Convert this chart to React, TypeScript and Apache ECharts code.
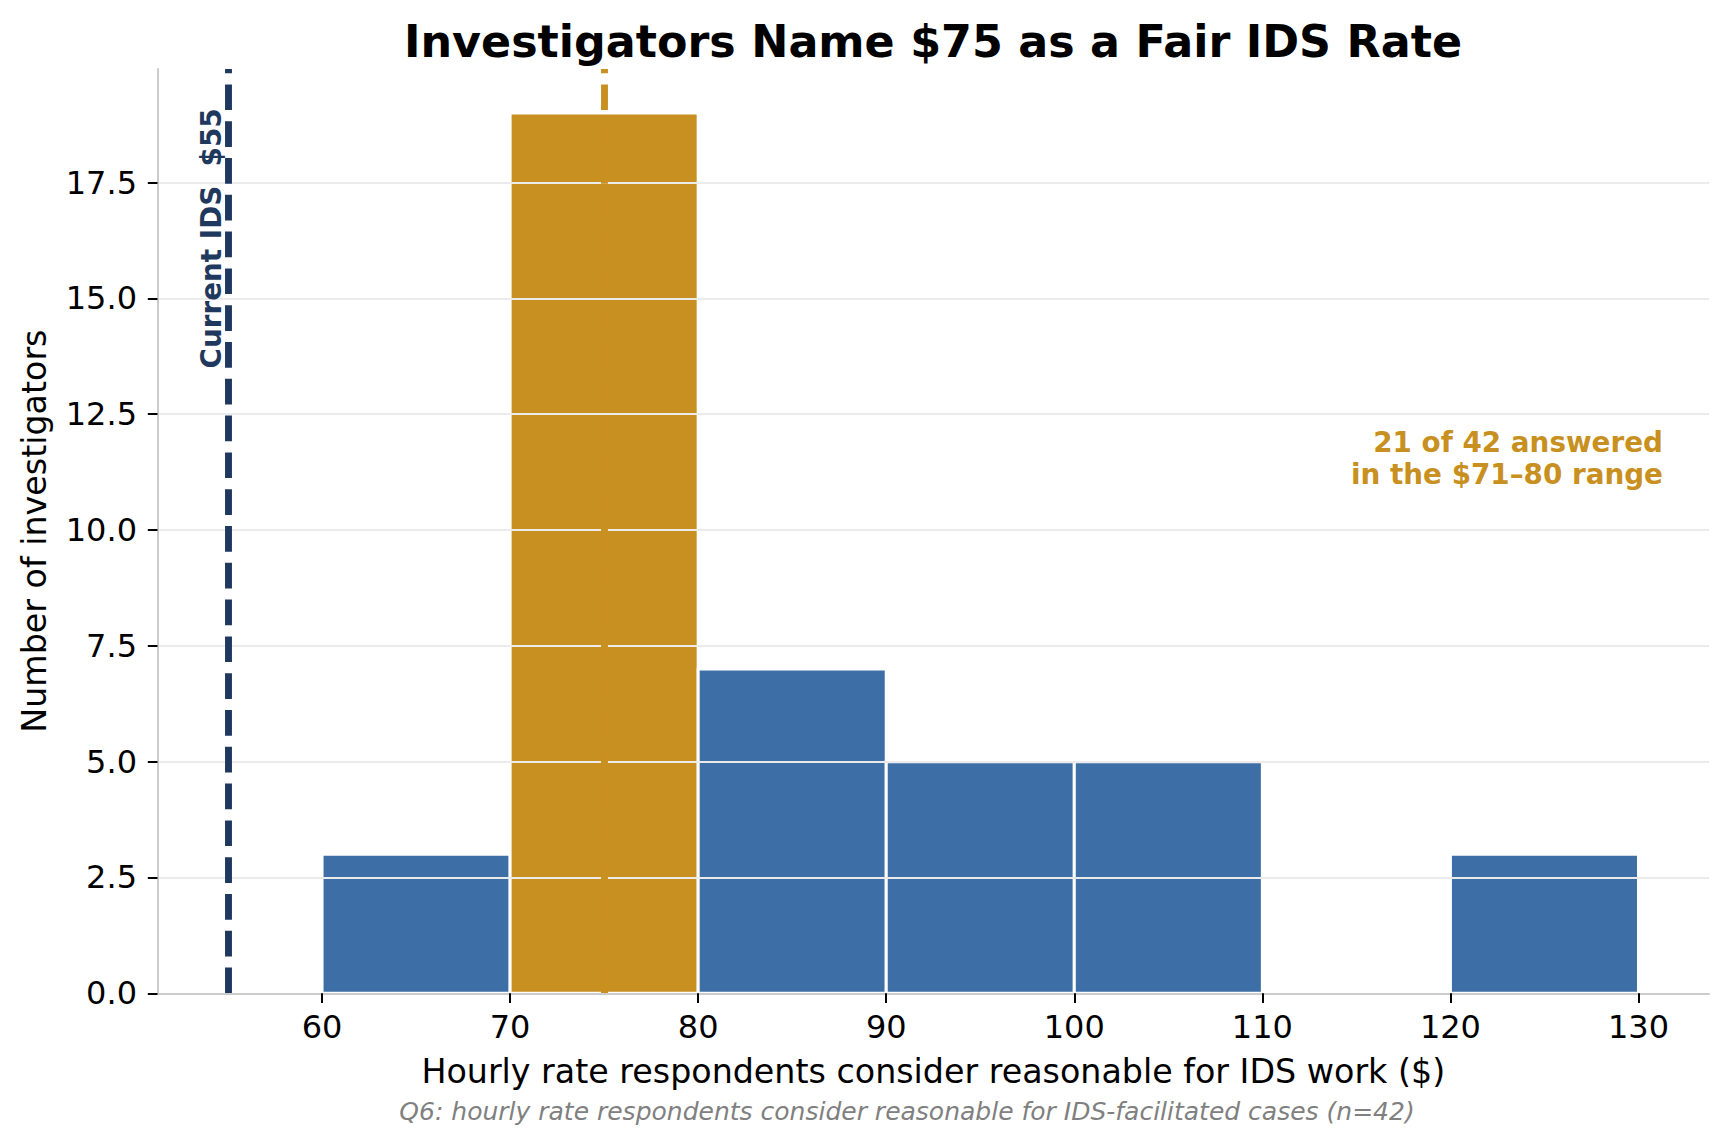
import React, { useEffect, useRef } from "react";
import * as echarts from "echarts";

// ---- data ----
const binStarts = [60, 70, 80, 90, 100, 110, 120];
const binWidth = 10;
const counts = [3, 19, 7, 5, 5, 0, 3];
const highlightBin = 70;
const xTicks = [60, 70, 80, 90, 100, 110, 120, 130];
const yTicks = [0, 2.5, 5, 7.5, 10, 12.5, 15, 17.5];
const currentRate = 55;
const fairRate = 75;
const xMin = 51.25;
const xMax = 133.75;
const yMax = 19.95;
const currentLabelPos = [54.1, 19.1];
const annotationPos = [131.3, 11.55];

const TITLE = "Investigators Name $75 as a Fair IDS Rate";
const X_NAME = "Hourly rate respondents consider reasonable for IDS work ($)";
const Y_NAME = "Number of investigators";
const FOOTNOTE = "Q6: hourly rate respondents consider reasonable for IDS-facilitated cases (n=42)";
const CURRENT_LABEL = "Current IDS  $55";
const ANNOTATION = "21 of 42 answered\nin the $71–80 range";

const BLUE = "#3d6ea5";
const GOLD = "#c89020";
const NAVY = "#1f385d";
const FONT = "DejaVu Sans";

export default function App() {
  const ref = useRef<HTMLDivElement>(null);
  useEffect(() => {
    if (!ref.current) return;
    const chart = echarts.init(ref.current, undefined, { renderer: "svg" });
    const barData = binStarts.map((s, i) => [s, counts[i]]);
    const option: any = {
      animation: false,
      backgroundColor: "#ffffff",
      textStyle: { fontFamily: FONT },
      grid: { left: 157.5, right: 19, top: 69, bottom: 151.7, containLabel: false },
      xAxis: {
        type: "value",
        min: xMin,
        max: xMax,
        z: 5,
        splitLine: { show: false },
        axisLine: { show: true, lineStyle: { color: "#cccccc", width: 2 } },
        axisTick: { show: true, length: 9.7, customValues: xTicks, lineStyle: { color: "#000", width: 2 } },
        axisLabel: {
          customValues: xTicks,
          margin: 18,
          fontSize: 32,
          color: "#000",
          fontFamily: FONT,
          formatter: (v: number) => String(Math.round(v)),
        },
        name: X_NAME,
        nameLocation: "middle",
        nameGap: 61.5,
        nameTextStyle: { fontSize: 33.3, color: "#000", fontFamily: FONT },
      },
      yAxis: {
        type: "value",
        min: 0,
        max: yMax,
        z: 5,
        splitLine: { show: false },
        axisLine: { show: true, lineStyle: { color: "#cccccc", width: 2 } },
        axisTick: { show: true, length: 9.7, customValues: yTicks, lineStyle: { color: "#000", width: 2 } },
        axisLabel: {
          customValues: yTicks,
          margin: 20.5,
          fontSize: 32,
          color: "#000",
          fontFamily: FONT,
          formatter: (v: number) => v.toFixed(1),
        },
        name: Y_NAME,
        nameLocation: "middle",
        nameGap: 107,
        nameTextStyle: { fontSize: 33.3, color: "#000", fontFamily: FONT },
      },
      series: [
        {
          type: "custom",
          z: 2,
          silent: true,
          data: barData,
          renderItem: (params: any, api: any) => {
            const x0 = api.value(0);
            const c = api.value(1);
            if (!c) return null;
            const p0 = api.coord([x0, 0]);
            const p1 = api.coord([x0 + binWidth, c]);
            return {
              type: "rect",
              shape: { x: p0[0], y: p1[1], width: p1[0] - p0[0], height: p0[1] - p1[1] },
              style: { fill: x0 === highlightBin ? GOLD : BLUE, stroke: "#ffffff", lineWidth: 3 },
            };
          },
        },
        {
          type: "line",
          data: [],
          silent: true,
          markLine: {
            z: 3,
            silent: true,
            symbol: ["none", "none"],
            label: { show: false },
            lineStyle: { color: "#ebebeb", width: 2.2, type: "solid" },
            data: yTicks.map((v) => ({ yAxis: v })),
          },
        },
        {
          type: "line",
          data: [],
          silent: true,
          markLine: {
            z: 4,
            silent: true,
            symbol: ["none", "none"],
            label: { show: false },
            lineStyle: { color: GOLD, width: 6.9, type: [25.7, 11.1] },
            data: [{ xAxis: fairRate }],
          },
        },
        {
          type: "line",
          data: [],
          silent: true,
          markLine: {
            z: 4,
            silent: true,
            symbol: ["none", "none"],
            label: { show: false },
            lineStyle: { color: NAVY, width: 6.9, type: [25.7, 11.1] },
            data: [{ xAxis: currentRate }],
          },
        },
      ],
    };
    chart.setOption(option);

    const lp = chart.convertToPixel({ gridIndex: 0 }, currentLabelPos) as number[];
    const ap = chart.convertToPixel({ gridIndex: 0 }, annotationPos) as number[];
    chart.setOption({
      graphic: [
        {
          type: "text",
          x: 933,
          y: 41.5,
          z: 10,
          style: {
            text: TITLE,
            font: `bold 44.4px "${FONT}"`,
            fill: "#000",
            align: "center",
            verticalAlign: "middle",
          },
        },
        {
          type: "text",
          x: 907,
          y: 1111,
          z: 10,
          style: {
            text: FOOTNOTE,
            font: `italic 25px "${FONT}"`,
            fill: "#808080",
            align: "center",
            verticalAlign: "middle",
          },
        },
        {
          type: "text",
          x: lp[0],
          y: lp[1],
          rotation: Math.PI / 2,
          z: 10,
          style: {
            text: CURRENT_LABEL,
            font: `bold 27.8px "${FONT}"`,
            fill: NAVY,
            align: "right",
            verticalAlign: "middle",
          },
        },
        {
          type: "text",
          x: ap[0],
          y: ap[1],
          z: 10,
          style: {
            text: ANNOTATION,
            font: `bold 27.8px "${FONT}"`,
            fill: GOLD,
            align: "right",
            verticalAlign: "middle",
            lineHeight: 32,
          },
        },
      ],
    });
    return () => chart.dispose();
  }, []);
  return (
    <div
      ref={ref}
      style={{ position: "fixed", left: 0, top: 0, width: 1728, height: 1145, background: "#fff" }}
    />
  );
}
